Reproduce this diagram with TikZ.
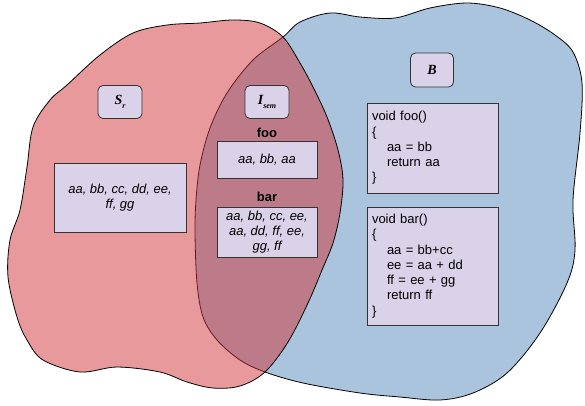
\documentclass[tikz,border=0pt]{standalone}
\usepackage{fontspec}
\setmainfont{Liberation Sans}
\newfontfamily\labelserif{Liberation Serif}
\definecolor{bluefill}{HTML}{A9C4DC}
\definecolor{redfill}{HTML}{D13339}
\definecolor{lav}{HTML}{D9D2E9}
\definecolor{boxline}{HTML}{333333}
\tikzset{
  blobline/.style={draw=black, line width=0.8pt},
  tagbox/.style={draw=boxline, fill=lav, line width=0.8pt, rounded corners=5pt,
    minimum width=44pt, minimum height=33pt, inner sep=0pt,
    font=\labelserif\fontsize{14}{14}\selectfont\bfseries\itshape},
  listbox/.style={draw=boxline, fill=lav, line width=0.8pt, inner sep=0pt,
    align=center, font=\fontsize{13}{15}\selectfont\itshape},
  codebox/.style={draw=boxline, fill=lav, line width=0.8pt, inner sep=5pt,
    text width=121pt, minimum height=90pt, align=left,
    font=\fontsize{13}{15.3}\selectfont},
  fnlabel/.style={font=\fontsize{13}{13}\selectfont\bfseries, inner sep=0pt}
}
\newcommand{\ind}{\hspace*{15pt}}
\begin{document}
\begin{tikzpicture}[x=1pt,y=-1pt]
\useasboundingbox (0,0) rectangle (585,405);

% set B
\draw[blobline, fill=bluefill] plot[smooth cycle, tension=0.55] coordinates {
  (283,37) (300,22) (330,13) (360,17) (395,18) (430,8) (467,3) (500,8)
  (530,20) (555,35) (573,52) (582,83) (580,133) (573,200) (575,250)
  (567,283) (540,333) (507,373) (473,393) (440,400) (400,397) (360,393)
  (303,383) (265,372) (240,360) (217,340) (203,317) (197,283) (195,233)
  (196,200) (200,165) (210,128) (227,93) (253,60)};

% set S_r, translucent over B
\draw[blobline, fill=redfill, fill opacity=0.5] plot[smooth cycle, tension=0.55] coordinates {
  (133,33) (167,25) (200,23) (233,20) (260,23) (283,37) (300,63) (313,87)
  (327,117) (338,150) (343,180) (340,213) (333,243) (322,270) (308,303)
  (288,342) (265,372) (240,386) (213,388) (187,382) (160,372) (117,367)
  (80,372) (43,360) (27,340) (17,317) (8,277) (10,240) (20,210) (27,167)
  (33,127) (50,100) (67,85) (100,55)};

% set labels
\node[tagbox] (sr) at (120,102) {S\raisebox{-3.5pt}{\fontsize{8}{8}\selectfont r}};
\node[tagbox] (isem) at (267,102) {I\raisebox{-4pt}{\fontsize{8}{8}\selectfont sem}};
\node[tagbox, minimum width=43pt, minimum height=34pt] (b) at (432,70) {B};

% variable lists
\node[listbox, minimum width=132pt, minimum height=69pt] (slist) at (120,197.5)
  {aa, bb, cc, dd, ee,\\ ff, gg};
\node[fnlabel] (foolbl) at (267,133) {foo};
\node[listbox, minimum width=100pt, minimum height=37pt] (foolist) at (267,159.5)
  {aa, bb, aa};
\node[fnlabel] (barlbl) at (267,197) {bar};
\node[listbox, minimum width=100pt, minimum height=50pt] (barlist) at (267,232)
  {aa, bb, cc, ee,\\ aa, dd, ff, ee,\\ gg, ff};

% source code
\node[codebox] (foocode) at (432.5,148)
  {void foo()\\ \{\\ \ind aa = bb\\ \ind return aa\\ \}};
\node[codebox, minimum height=118pt] (barcode) at (432.5,266)
  {void bar()\\ \{\\ \ind aa = bb+cc\\ \ind ee = aa + dd\\ \ind ff = ee + gg\\ \ind return ff\\ \}};
\end{tikzpicture}
\end{document}
